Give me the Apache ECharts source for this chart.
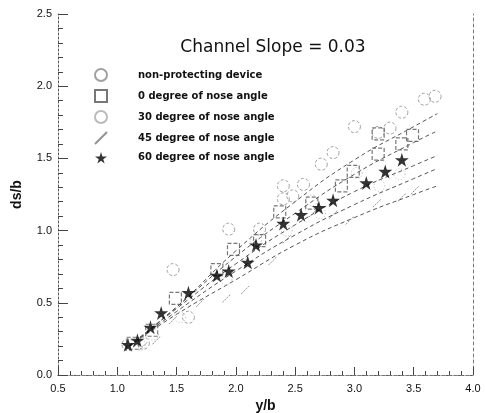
<!DOCTYPE html>
<html>
<head>
<meta charset="utf-8">
<script src="https://cdn.jsdelivr.net/npm/echarts@6/dist/echarts.min.js"></script>
<style>
  html, body { margin: 0; padding: 0; background: #fff; }
  #chart { width: 485px; height: 413px; }
</style>
</head>
<body>
<div id="chart"></div>
<script>
// measured points, [y/b, ds/b]
var nonProtecting = [
    [1.09, 0.21], [1.22, 0.22], [1.47, 0.73], [1.60, 0.40], [1.94, 1.01],
    [2.20, 1.01], [2.40, 1.31], [2.40, 1.22], [2.48, 1.24], [2.57, 1.32],
    [2.72, 1.46], [2.82, 1.54], [3.00, 1.72], [3.20, 1.68], [3.30, 1.71],
    [3.40, 1.82], [3.59, 1.91], [3.68, 1.93]
];
var deg0 = [
    [1.13, 0.22], [1.29, 0.31], [1.49, 0.53], [1.84, 0.73], [1.98, 0.87],
    [2.20, 0.93], [2.37, 1.13], [2.64, 1.19], [2.89, 1.31], [2.99, 1.41],
    [3.20, 1.53], [3.20, 1.67], [3.40, 1.60], [3.49, 1.66]
];
var deg30 = [
    [1.19, 0.21], [1.30, 0.28], [1.53, 0.40], [1.92, 0.66], [2.17, 0.93],
    [2.43, 1.00], [2.64, 1.21], [2.71, 1.12], [3.02, 1.40], [3.21, 1.31],
    [3.38, 1.39]
];
var deg45 = [
    [1.22, 0.20], [1.33, 0.24], [1.47, 0.38], [1.70, 0.50], [1.92, 0.53],
    [2.08, 0.59], [2.31, 0.79], [2.43, 0.94], [2.65, 1.12], [2.82, 1.11],
    [2.96, 1.07], [3.19, 1.19], [3.40, 1.23], [3.51, 1.28]
];
var deg60 = [
    [1.09, 0.21], [1.17, 0.24], [1.28, 0.33], [1.37, 0.43], [1.60, 0.57],
    [1.84, 0.69], [1.94, 0.72], [2.10, 0.78], [2.17, 0.90], [2.40, 1.05],
    [2.55, 1.11], [2.70, 1.16], [2.82, 1.21], [3.10, 1.33], [3.26, 1.41],
    [3.40, 1.49]
];

// fitted curves
var fitNonProtecting = [[1.1, 0.20], [1.5, 0.47], [2.0, 0.86], [2.5, 1.20], [3.0, 1.49], [3.5, 1.72], [3.7, 1.81]];
var fit0 = [[1.1, 0.20], [1.5, 0.47], [2.0, 0.82], [2.5, 1.12], [3.0, 1.39], [3.5, 1.61], [3.7, 1.69]];
var fit60 = [[1.1, 0.20], [1.5, 0.46], [2.0, 0.77], [2.5, 1.04], [3.0, 1.27], [3.5, 1.45], [3.7, 1.52]];
var fit30 = [[1.1, 0.20], [1.5, 0.44], [2.0, 0.72], [2.5, 0.97], [3.0, 1.18], [3.5, 1.36], [3.7, 1.43]];
var fit45 = [[1.1, 0.20], [1.5, 0.42], [2.0, 0.66], [2.5, 0.90], [3.0, 1.09], [3.5, 1.25], [3.7, 1.31]];

var legendNames = [
    'non-protecting device',
    '0 degree of nose angle',
    '30 degree of nose angle',
    '45 degree of nose angle',
    '60 degree of nose angle'
];

var starPath = 'path://M50,0 L61,35 L98,35 L68,57 L79,91 L50,70 L21,91 L32,57 L2,35 L39,35 Z';
var slashPath = 'path://M0,10 L10,0';

function fitLine(data) {
    return {
        type: 'line',
        data: data,
        smooth: true,
        symbol: 'none',
        silent: true,
        lineStyle: {color: '#555', width: 1, type: [4, 3]},
        z: 1
    };
}

var myChart = echarts.init(document.getElementById('chart'));
var option = {
    animation: false,
    textStyle: {fontFamily: 'Liberation Sans, Arial, sans-serif'},
    title: {
        text: 'Channel Slope = 0.03',
        left: 268,
        top: 34,
        textAlign: 'center',
        textStyle: {fontFamily: 'DejaVu Sans', fontSize: 17, fontWeight: 'normal', color: '#111'}
    },
    legend: {
        data: legendNames,
        orient: 'vertical',
        left: 89,
        top: 63,
        itemWidth: 12,
        itemHeight: 12,
        itemGap: 7,
        textStyle: {fontFamily: 'DejaVu Sans', fontSize: 10, fontWeight: 'bold', color: '#111', padding: [0, 0, 0, 26]}
    },
    grid: {left: 58, right: 12, top: 14, bottom: 38, outerBoundsMode: 'none'},
    xAxis: [
        {
            type: 'value',
            min: 0.5, max: 4.0, interval: 0.5,
            name: 'y/b',
            nameLocation: 'middle',
            nameGap: 24,
            nameTextStyle: {fontSize: 14, fontWeight: 'bold', color: '#111'},
            axisLine: {lineStyle: {color: '#555', type: [2, 2]}},
            axisTick: {inside: true, length: 8, lineStyle: {color: '#444'}},
            minorTick: {show: true, splitNumber: 5, length: 4, lineStyle: {color: '#444'}},
            axisLabel: {fontSize: 11, color: '#111', margin: 8, formatter: function (v) { return v.toFixed(1); }},
            splitLine: {show: false}
        },
        {
            type: 'value', position: 'top',
            min: 0.5, max: 4.0, interval: 0.5,
            axisLine: {show: true, lineStyle: {color: '#777', type: [3, 3]}},
            axisTick: {show: false}, axisLabel: {show: false}, splitLine: {show: false}
        }
    ],
    yAxis: [
        {
            type: 'value',
            min: 0, max: 2.5, interval: 0.5,
            name: 'ds/b',
            nameLocation: 'middle',
            nameGap: 34,
            nameTextStyle: {fontSize: 14, fontWeight: 'bold', color: '#111'},
            axisLine: {show: true, lineStyle: {color: '#555', type: [2, 2]}},
            axisTick: {inside: true, length: 10, lineStyle: {color: '#444'}},
            minorTick: {show: true, splitNumber: 5, length: 5, lineStyle: {color: '#444'}},
            axisLabel: {fontSize: 11, color: '#111', margin: 6, formatter: function (v) { return v.toFixed(1); }},
            splitLine: {show: false}
        },
        {
            type: 'value', position: 'right',
            min: 0, max: 2.5, interval: 0.5,
            axisLine: {show: true, lineStyle: {color: '#777', type: [3, 3]}},
            axisTick: {show: false}, axisLabel: {show: false}, splitLine: {show: false}
        }
    ],
    series: [
        fitLine(fitNonProtecting),
        fitLine(fit0),
        fitLine(fit60),
        fitLine(fit30),
        fitLine(fit45),
        {
            name: legendNames[0], type: 'scatter', data: nonProtecting,
            symbol: 'circle', symbolSize: 12,
            itemStyle: {color: 'rgba(255,255,255,0)', borderColor: '#888', borderWidth: 1, borderType: [3, 2]},
            z: 3
        },
        {
            name: legendNames[1], type: 'scatter', data: deg0,
            symbol: 'rect', symbolSize: 12,
            itemStyle: {color: 'rgba(255,255,255,0)', borderColor: '#555', borderWidth: 1.2, borderType: [4, 2]},
            z: 3
        },
        {
            name: legendNames[2], type: 'scatter', data: deg30,
            symbol: 'circle', symbolSize: 11,
            itemStyle: {color: 'rgba(255,255,255,0)', borderColor: '#aaa', borderWidth: 1, borderType: [1, 2]},
            z: 3
        },
        {
            name: legendNames[3], type: 'scatter', data: deg45,
            symbol: slashPath, symbolSize: 8,
            itemStyle: {color: 'rgba(255,255,255,0)', borderColor: '#777', borderWidth: 1, borderType: [2, 1]},
            z: 3
        },
        {
            name: legendNames[4], type: 'scatter', data: deg60,
            symbol: starPath, symbolSize: 14,
            itemStyle: {color: '#000'},
            z: 4
        }
    ]
};
myChart.setOption(option, true);
</script>
</body>
</html>
